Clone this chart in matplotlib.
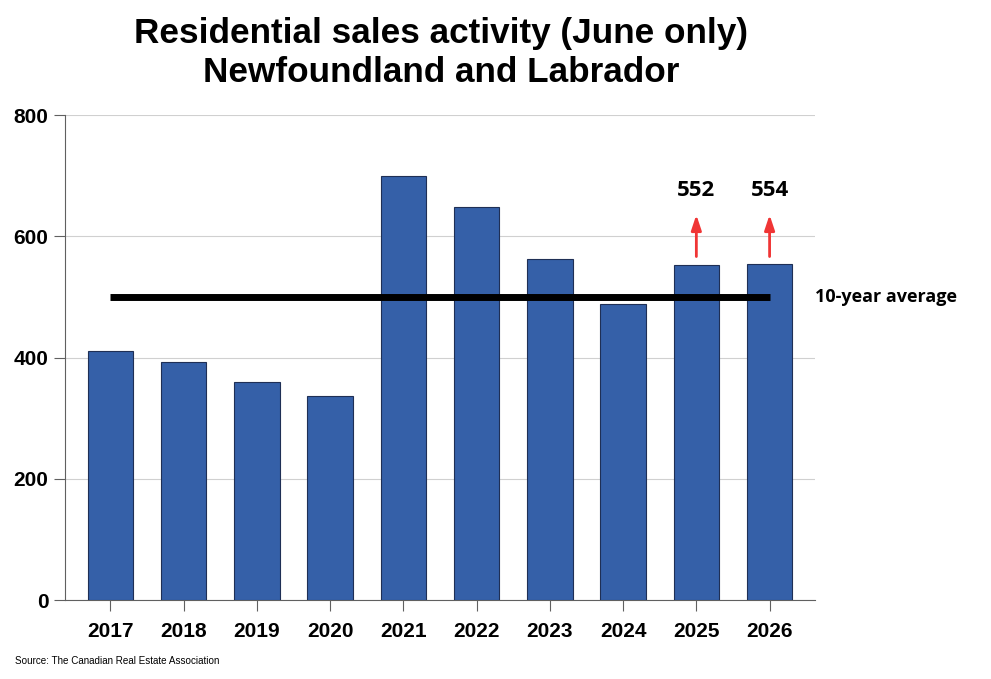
import numpy as np
import matplotlib.pyplot as plt

YEARS = ["2017", "2018", "2019", "2020", "2021", "2022", "2023", "2024", "2025", "2026"]
SALES = [411, 392, 360, 336, 699, 648, 562, 488, 552, 554]
AVG = 500
HIGHLIGHT = {"2025": "552", "2026": "554"}

fig = plt.figure(figsize=(9.91, 6.79), dpi=100)
ax = fig.add_axes([0.0656, 0.1163, 0.7568, 0.7143])

x = np.arange(len(YEARS))
ax.bar(x, SALES, width=0.62, color="#3560a8", edgecolor="#1f2f55", linewidth=0.8, zorder=3)

ax.plot([x[0], x[-1]], [AVG, AVG], color="black", lw=5, solid_capstyle="butt", zorder=4)
ax.text(1.0, AVG, "10-year average", transform=ax.get_yaxis_transform(),
        ha="left", va="center", fontsize=13, fontweight="bold", family="Open Sans")

for yr, lab in HIGHLIGHT.items():
    i = YEARS.index(yr)
    ax.annotate("", xy=(x[i], 640), xytext=(x[i], 562),
                arrowprops=dict(arrowstyle="-|>,head_length=0.9,head_width=0.3",
                                color="#f03535", lw=2))
    ax.text(x[i], 676, lab, ha="center", va="center", fontsize=16,
            fontweight="bold", family="Open Sans")

ax.set_xlim(-0.62, len(YEARS) - 0.38)
ax.set_ylim(0, 800)
ax.set_yticks([0, 200, 400, 600, 800])
ax.set_xticks(x)
ax.set_xticklabels(YEARS)
for t in ax.get_xticklabels() + ax.get_yticklabels():
    t.set_family("Liberation Sans")
    t.set_fontweight("bold")
    t.set_fontsize(15)

ax.grid(axis="y", color="#d0d0d0", lw=0.8, zorder=0)
for s in ["top", "right"]:
    ax.spines[s].set_visible(False)
ax.spines["left"].set_color("#606060")
ax.spines["bottom"].set_color("#606060")
ax.tick_params(axis="y", length=8, color="#606060", pad=4)
ax.tick_params(axis="x", length=8, color="#606060", pad=8)

fig.text(0.445, 0.950, "Residential sales activity (June only)", ha="center", va="center",
         fontsize=25.3, fontweight="bold", family="Liberation Sans")
fig.text(0.445, 0.893, "Newfoundland and Labrador", ha="center", va="center",
         fontsize=25.3, fontweight="bold", family="Liberation Sans")
fig.text(0.015, 0.026, "Source: The Canadian Real Estate Association", ha="left", va="center",
         fontsize=7.1, family="Liberation Sans")

fig.savefig("out.png", dpi=100)
